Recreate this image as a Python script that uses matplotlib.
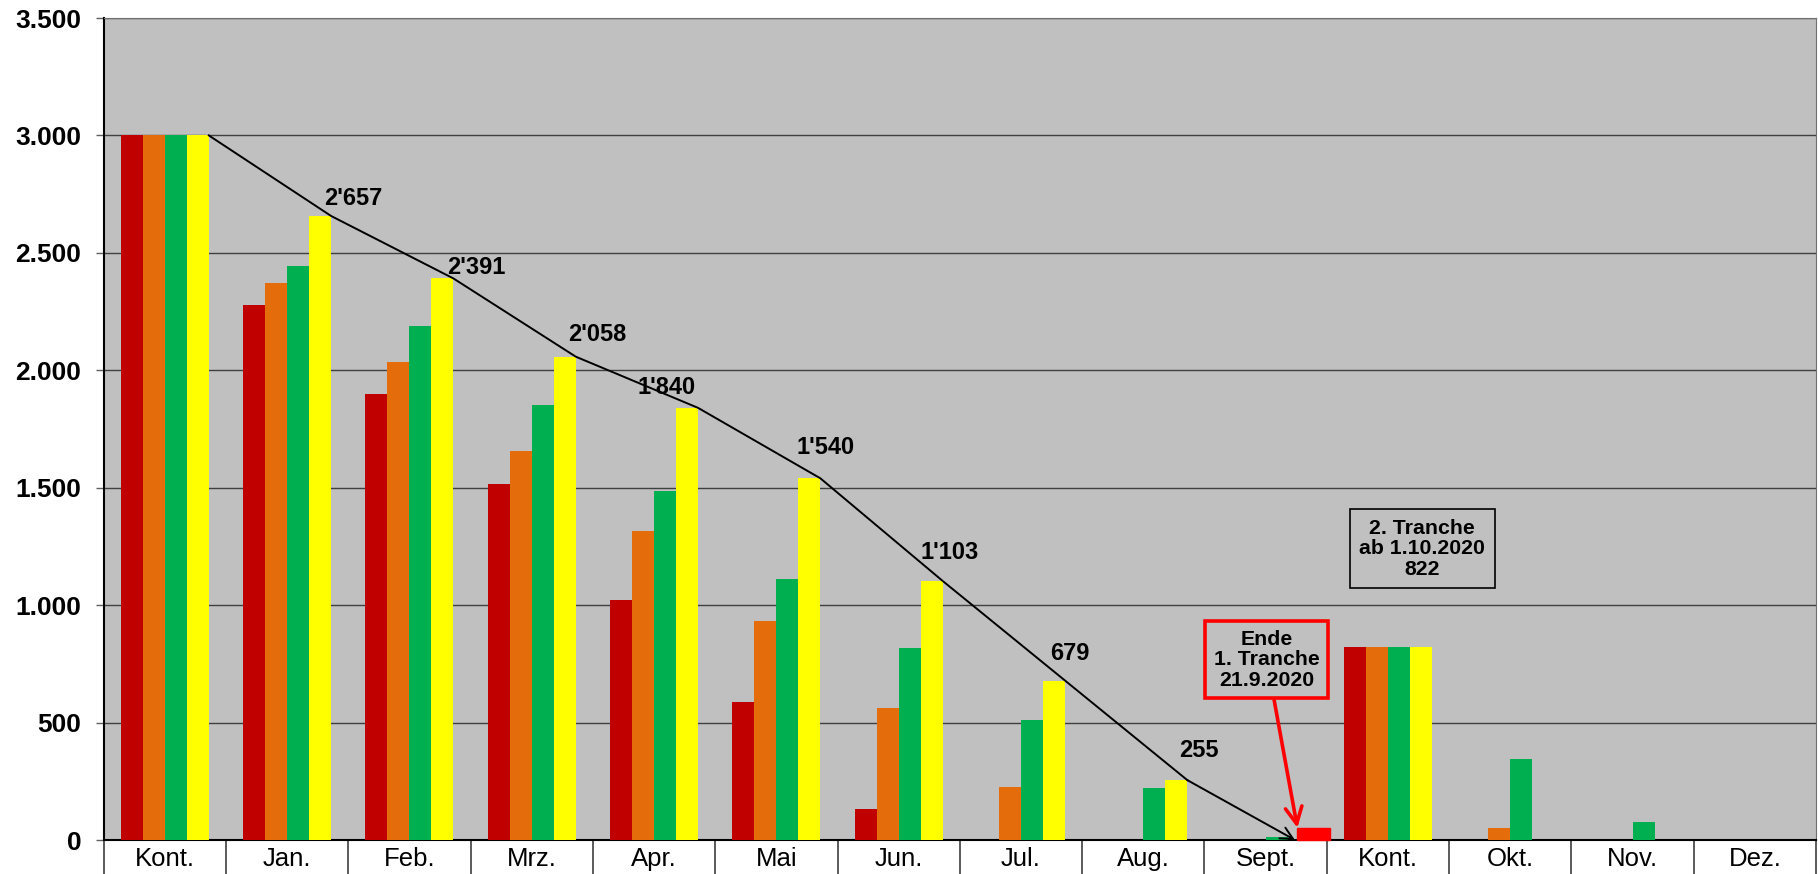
import numpy as np
import matplotlib.pyplot as plt
from matplotlib.patches import Rectangle
from matplotlib.ticker import FuncFormatter, FixedLocator

plt.rcParams['font.family'] = ['Liberation Sans', 'DejaVu Sans']

cats = ['Kont.', 'Jan.', 'Feb.', 'Mrz.', 'Apr.', 'Mai', 'Jun.', 'Jul.', 'Aug.',
        'Sept.', 'Kont.', 'Okt.', 'Nov.', 'Dez.']
s_red = [3000, 2276, 1897, 1515, 1022, 588, 131, 0, 0, 0, 822, 0, 0, 0]
s_orange = [3000, 2370, 2034, 1657, 1314, 932, 564, 226, 0, 0, 822, 50, 0, 0]
s_green = [3000, 2445, 2187, 1851, 1485, 1111, 818, 510, 222, 11, 822, 345, 75, 0]
s_yellow = [3000, 2657, 2391, 2058, 1840, 1540, 1103, 679, 255, 0, 822, 0, 0, 0]
trend_n = 10  # trend line runs Kont. .. Sept.

colors = ['#C00000', '#E46C0A', '#00B050', '#FFFF00']
series = [s_red, s_orange, s_green, s_yellow]

fig = plt.figure(figsize=(18.18, 8.74), dpi=100)
ax = fig.add_axes([0.057, 0.0389, 0.9419, 0.9405])
ax.set_facecolor('#C0C0C0')

x = np.arange(len(cats))
w = 0.18
for k, (vals, c) in enumerate(zip(series, colors)):
    ax.bar(x + (k - 1.5) * w, vals, width=w, color=c, edgecolor='none', zorder=3)

ax.set_xlim(-0.5, len(cats) - 0.5)
ax.set_ylim(0, 3500)
ax.yaxis.set_major_locator(FixedLocator(np.arange(0, 3501, 500)))
ax.yaxis.set_major_formatter(FuncFormatter(lambda v, p: f"{int(v):,}".replace(',', '.')))
ax.grid(axis='y', color='#404040', lw=1.0, zorder=1)
ax.tick_params(axis='y', length=6, width=1, color='#606060', pad=10, labelsize=19)
for t in ax.get_yticklabels():
    t.set_fontweight('bold')

# category cells below the axis
ax.xaxis.set_major_locator(FixedLocator(np.arange(-0.5, len(cats), 1.0)))
ax.xaxis.set_minor_locator(FixedLocator(x))
ax.set_xticklabels([], minor=False)
ax.set_xticklabels(cats, minor=True)
ax.tick_params(axis='x', which='major', length=36, width=1.2, color='#404040')
ax.tick_params(axis='x', which='minor', length=0, pad=5, labelsize=18.5)

for side in ['top', 'right']:
    ax.spines[side].set_color('#707070')
ax.spines['left'].set_color('black')
ax.spines['left'].set_linewidth(1.5)
ax.spines['bottom'].set_color('black')
ax.spines['bottom'].set_linewidth(1.5)

# trend line through the yellow bar tops
tx = x[:trend_n] + 2 * w
ty = np.array(s_yellow[:trend_n])
ax.plot(tx[:-1], ty[:-1], color='black', lw=1.4, zorder=4)
ax.annotate('', xy=(tx[-1] - 0.12, ty[-1]), xytext=(tx[-2], ty[-2]),
            arrowprops=dict(arrowstyle='->', lw=1.4, color='black',
                            shrinkA=0, shrinkB=0, mutation_scale=22), zorder=4)

offsets = [(22, 17), (23, 11), (21, 22), (-32, 20), (5, 31), (7, 28), (5, 27), (12, 30)]
for i, (dx, dy) in zip(range(1, trend_n - 1), offsets):
    lab = f"{s_yellow[i]:,}".replace(',', "'")
    ax.annotate(lab, xy=(tx[i], ty[i]), xytext=(dx, dy), textcoords='offset pixels',
                ha='center', va='center', fontsize=17, fontweight='bold', zorder=5)

# annotations
sept = cats.index('Sept.')
ax.add_patch(Rectangle((sept + 0.26, 0), 0.27, 52, color='#FF0000', zorder=5, clip_on=False))
ax.annotate('Ende\n1. Tranche\n21.9.2020', xy=(sept + 0.26, 52), xytext=(sept + 0.01, 767),
            ha='center', va='center', fontsize=15.3, fontweight='bold', linespacing=1.1,
            bbox=dict(boxstyle='square,pad=0.4', fc='#C0C0C0', ec='#FF0000', lw=2.6),
            arrowprops=dict(arrowstyle='->', color='#FF0000', lw=2.6, shrinkA=0, shrinkB=0,
                            mutation_scale=30), zorder=6)
ax.text(10.28, 1240, '2. Tranche\nab 1.10.2020\n822', ha='center', va='center',
        fontsize=15.3, fontweight='bold', linespacing=1.1,
        bbox=dict(boxstyle='square,pad=0.45', fc='#C0C0C0', ec='black', lw=1.2), zorder=6)

fig.savefig('out.png', dpi=100)
